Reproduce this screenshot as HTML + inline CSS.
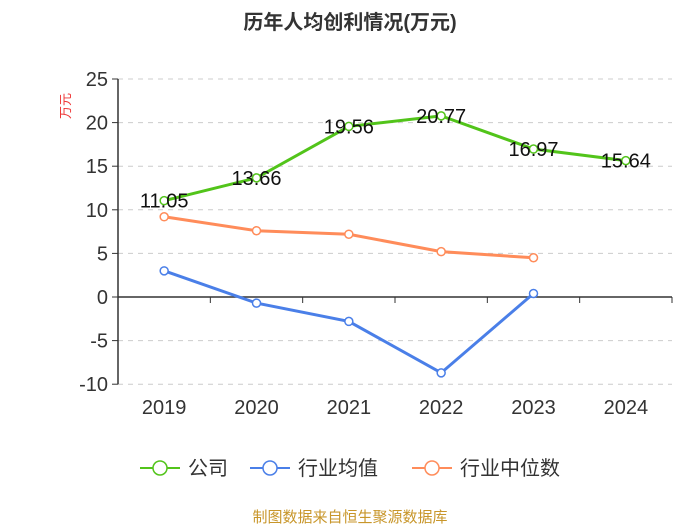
<!DOCTYPE html>
<html><head><meta charset="utf-8"><style>
body{margin:0;background:#fff;width:700px;height:525px;overflow:hidden;font-family:"Liberation Sans","Noto Sans CJK SC",sans-serif}
</style></head><body>
<svg id="c" width="700" height="525" xmlns="http://www.w3.org/2000/svg" font-family="Liberation Sans, Noto Sans CJK SC, sans-serif"></svg>
<script>
const categories=["2019","2020","2021","2022","2023","2024"];
const companyVals=[11.05,13.66,19.56,20.77,16.97,15.64];
const avgVals=[3.0,-0.7,-2.8,-8.7,0.4];
const medianVals=[9.2,7.6,7.2,5.2,4.5];
const yTicks=[25,20,15,10,5,0,-5,-10];
const NS="http://www.w3.org/2000/svg";
const svg=document.getElementById('c');
const L=118,R=672,bw=(R-L)/categories.length;
const x=i=>L+bw*(i+0.5);
const y=v=>297-v*8.72;
function el(t,a,p){const e=document.createElementNS(NS,t);for(const k in a)e.setAttribute(k,a[k]);(p||svg).appendChild(e);return e;}
let t=el('text',{x:350,y:29,'text-anchor':'middle','font-size':20,'font-weight':'bold',fill:'#333'});t.textContent='历年人均创利情况(万元)';


t=el('text',{x:0,y:0,transform:'translate(70,106) rotate(-90)','text-anchor':'middle','font-size':13,fill:'#e33'});t.textContent='万元';


yTicks.forEach(v=>{
 if(v!==0){const g=el('line',{x1:L,x2:R,y1:y(v),y2:y(v),stroke:'#ccc','stroke-dasharray':'5,5'});
 
 }
 el('line',{x1:L-6,x2:L,y1:y(v),y2:y(v),stroke:'#333'});
 const tt=el('text',{x:L-10,y:y(v)+7,'text-anchor':'end','font-size':20,fill:'#333'});tt.textContent=v;
 
 
});
el('line',{x1:L,x2:L,y1:y(25),y2:y(-10),stroke:'#333','stroke-width':1.5});
el('line',{x1:L,x2:R,y1:y(0),y2:y(0),stroke:'#333','stroke-width':1.5});
categories.forEach((c,i)=>{
 el('line',{x1:L+bw*(i+1),x2:L+bw*(i+1),y1:y(0),y2:y(0)+6,stroke:'#333'});
 const tt=el('text',{x:x(i),y:414,'text-anchor':'middle','font-size':20,fill:'#333'});tt.textContent=c;
 
 
});
function series(vals,color,name,labels){
 const g=el('g',{});
 
 
 el('polyline',{points:vals.map((v,i)=>x(i)+','+y(v)).join(' '),fill:'none',stroke:color,'stroke-width':3},g);
 vals.forEach((v,i)=>{
  const c=el('circle',{cx:x(i),cy:y(v),r:4,fill:'#fff',stroke:color,'stroke-width':1.5},g);
  
  
  if(labels){const tt=el('text',{x:x(i),y:y(v)+7,'text-anchor':'middle','font-size':20,fill:'#111'},g);tt.textContent=v.toFixed(2);
  
  }
 });
}
series(medianVals,'#ff8c5a','median-series',false);
series(avgVals,'#4a7fe8','average-series',false);
series(companyVals,'#52c41a','company-series',true);
const leg=[['公司','#52c41a',140],['行业均值','#4a7fe8',250],['行业中位数','#ff8c5a',412]];
leg.forEach(([n,c,lx])=>{
 const g=el('g',{});
 
 
 el('line',{x1:lx,x2:lx+40,y1:468,y2:468,stroke:c,'stroke-width':2},g);
 el('circle',{cx:lx+20,cy:468,r:7,fill:'#fff',stroke:c,'stroke-width':1.5},g);
 const tt=el('text',{x:lx+48,y:475,'font-size':20,fill:'#333'},g);tt.textContent=n;
});
t=el('text',{x:350,y:522,'text-anchor':'middle','font-size':15,fill:'#c8962a'});t.textContent='制图数据来自恒生聚源数据库';


</script>
</body></html>
